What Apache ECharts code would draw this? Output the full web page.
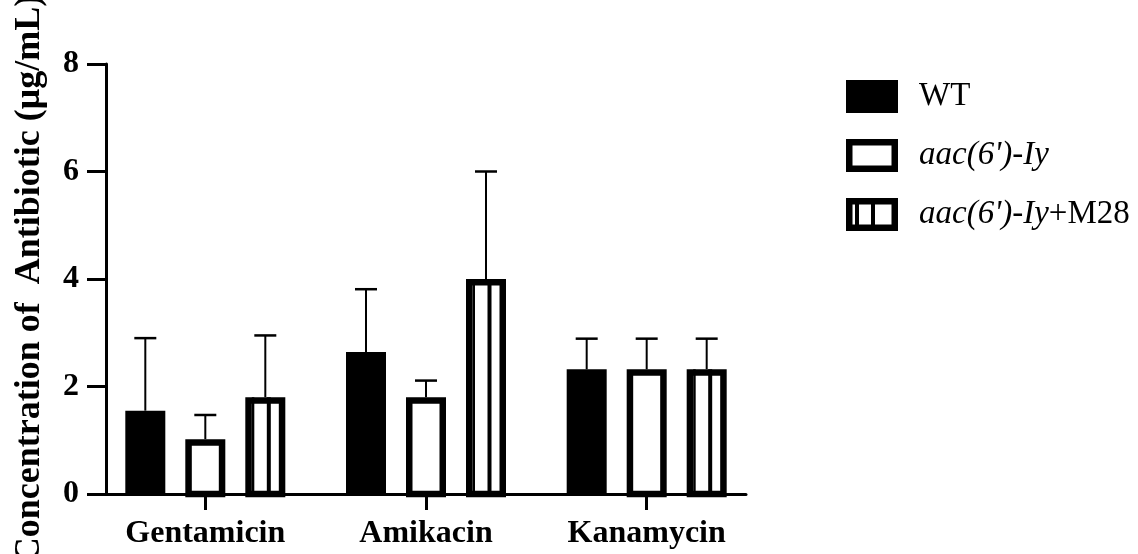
<!DOCTYPE html>
<html>
<head>
<meta charset="utf-8">
<script src="https://cdn.jsdelivr.net/npm/echarts@6/dist/echarts.min.js"></script>
<style>
  html, body { margin: 0; padding: 0; background: #fff; }
  #chart { width: 1138px; height: 554px; }
</style>
</head>
<body>
<div id="chart"></div>
<script>
// Antibiotic concentration per strain (mean and SD, µg/mL)
const categories = ['Gentamicin', 'Amikacin', 'Kanamycin'];
const seriesNames = ['WT', "aac(6')-Iy", "aac(6')-Iy+M28"];
const wtMean = [1.55, 2.64, 2.32];
const wtSD = [1.35, 1.17, 0.57];
const mutMean = [1.02, 1.80, 2.32];
const mutSD = [0.45, 0.31, 0.57];
const compMean = [1.80, 4.00, 2.32];
const compSD = [1.15, 2.00, 0.57];
const yTicks = [0, 2, 4, 6, 8];

const FONT = '"Liberation Serif", "Times New Roman", serif';
const BAR_W = 40;
const OFFSETS = [-60, 0, 60];
const BORDER = 6.5;

function rows(mean, sd) {
  return categories.map((c, i) => [i, mean[i], sd[i]]);
}

function renderItem(params, api) {
  const cat = api.value(0), v = api.value(1), e = api.value(2);
  const kind = params.seriesIndex;
  const top = api.coord([cat, v]);
  const base = api.coord([cat, 0]);
  const cap = api.coord([cat, v + e]);
  const cx = top[0] + OFFSETS[kind];
  const x0 = cx - BAR_W / 2;
  const h = base[1] - top[1];
  const children = [];
  // upper error bar with cap
  children.push({ type: 'line', shape: { x1: cx, y1: top[1], x2: cx, y2: cap[1] },
    style: { stroke: '#000', lineWidth: 2 } });
  children.push({ type: 'line', shape: { x1: cx - 11, y1: cap[1], x2: cx + 11, y2: cap[1] },
    style: { stroke: '#000', lineWidth: 2.5 } });
  if (kind === 0) {
    children.push({ type: 'rect', shape: { x: x0, y: top[1], width: BAR_W, height: h },
      style: { fill: '#000' } });
  } else {
    children.push({ type: 'rect',
      shape: { x: x0 + BORDER / 2, y: top[1] + BORDER / 2, width: BAR_W - BORDER, height: h - BORDER / 2 },
      style: { fill: '#fff', stroke: '#000', lineWidth: BORDER } });
    if (kind === 2) {
      // vertical stripe pattern
      children.push({ type: 'rect', shape: { x: x0 + BORDER, y: top[1], width: 2.5, height: h },
        style: { fill: '#000' } });
      children.push({ type: 'rect', shape: { x: x0 + 21.5, y: top[1], width: 4, height: h },
        style: { fill: '#000' } });
    }
  }
  return { type: 'group', children: children };
}

const chart = echarts.init(document.getElementById('chart'), null, { renderer: 'canvas' });

const axisLineStyle = { color: '#000', width: 3 };

chart.setOption({
  backgroundColor: '#fff',
  animation: false,
  grid: { left: 106, top: 64, width: 640, height: 430, outerBoundsMode: 'none', containLabel: false },
  legend: {
    orient: 'vertical',
    left: 841,
    top: 75,
    itemWidth: 52,
    itemHeight: 33,
    itemGap: 26,
    selectedMode: false,
    textStyle: {
      fontFamily: FONT, fontSize: 33, color: '#000', padding: [0, 0, 0, 16],
      rich: {
        i: { fontFamily: FONT, fontSize: 33, fontStyle: 'italic', color: '#000' },
        r: { fontFamily: FONT, fontSize: 33, color: '#000' }
      }
    },
    formatter: function (name) {
      if (name === 'WT') return '{r|WT}';
      const p = name.indexOf('+');
      if (p < 0) return '{i|' + name + '}';
      return '{i|' + name.slice(0, p) + '}{r|' + name.slice(p) + '}';
    },
    data: [
      { name: seriesNames[0], icon: 'rect' },
      { name: seriesNames[1], icon: 'path://M0 0H52V33H0Z M6.5 6.5V26.5H45.5V6.5Z' },
      { name: seriesNames[2], icon: 'path://M0 0H52V33H0Z M6.5 6.5V26.5H9V6.5Z M13 6.5V26.5H25V6.5Z M29 6.5V26.5H45.5V6.5Z' }
    ]
  },
  xAxis: {
    type: 'value',
    min: -0.45,
    max: 2.45,
    splitLine: { show: false },
    axisLine: { show: true, onZero: false, lineStyle: axisLineStyle },
    axisTick: { show: true, length: 16, lineStyle: { color: '#000', width: 3 }, customValues: [0, 1, 2] },
    axisLabel: {
      customValues: [0, 1, 2],
      formatter: function (v) { return categories[Math.round(v)]; },
      margin: 24,
      fontFamily: FONT, fontSize: 32, fontWeight: 'bold', color: '#000'
    }
  },
  yAxis: {
    type: 'value',
    min: 0,
    max: 8,
    interval: 2,
    name: 'Concentration of  Antibiotic (μg/mL)',
    nameLocation: 'middle',
    nameGap: 58,
    nameTextStyle: { fontFamily: FONT, fontSize: 36, fontWeight: 'bold', color: '#000' },
    splitLine: { show: false },
    axisLine: { show: true, onZero: false, lineStyle: axisLineStyle },
    axisTick: { show: true, length: 19, lineStyle: { color: '#000', width: 3 } },
    axisLabel: {
      margin: 27,
      formatter: function (v) { return yTicks.indexOf(v) >= 0 ? String(v) : ''; },
      fontFamily: FONT, fontSize: 32, fontWeight: 'bold', color: '#000'
    }
  },
  series: [
    { name: seriesNames[0], type: 'custom', renderItem: renderItem, itemStyle: { color: '#000' },
      encode: { x: 0, y: 1 }, data: rows(wtMean, wtSD) },
    { name: seriesNames[1], type: 'custom', renderItem: renderItem, itemStyle: { color: '#000' },
      encode: { x: 0, y: 1 }, data: rows(mutMean, mutSD) },
    { name: seriesNames[2], type: 'custom', renderItem: renderItem, itemStyle: { color: '#000' },
      encode: { x: 0, y: 1 }, data: rows(compMean, compSD) }
  ]
});
</script>
</body>
</html>
